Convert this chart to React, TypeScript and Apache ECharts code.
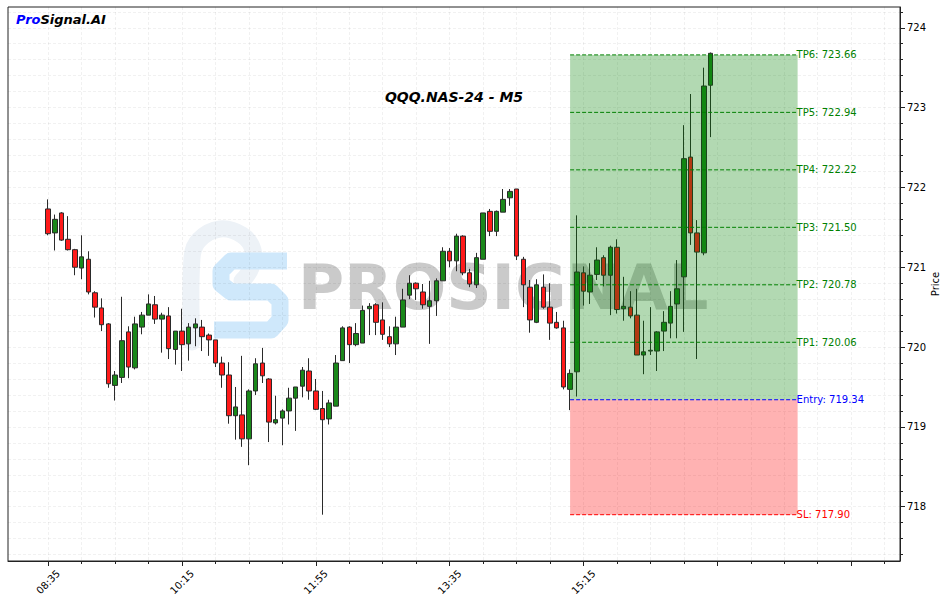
import React, { useEffect, useRef } from "react";
import * as echarts from "echarts";

// ---- candle data (index 0 = 08:35, M5 bars) ----
const OPENS = [
  721.73, 721.43, 721.68, 721.35, 721.22, 720.99, 721.10, 720.68, 720.49, 720.29,
  719.52, 719.62, 720.19, 719.74, 720.25, 720.40, 720.53, 720.35, 720.39, 719.97,
  720.20, 720.04, 720.24, 720.25, 720.15, 720.09, 719.80, 719.65, 719.14, 719.15,
  718.85, 719.45, 719.80, 719.60, 719.05, 719.11, 719.20, 719.36, 719.51, 719.70,
  719.45, 719.23, 719.10, 719.26, 719.83, 720.25, 720.03, 720.05, 720.48, 720.53,
  720.34, 720.13, 720.04, 720.25, 720.65, 720.80, 720.69, 720.51, 720.58, 720.83,
  721.20, 721.08, 721.39, 720.93, 720.78, 721.10, 721.70, 721.45, 721.69, 721.87,
  721.98, 721.10, 720.75, 720.31, 720.75, 720.50, 720.31, 720.24, 719.47, 719.69,
  720.93, 720.69, 720.91, 721.12, 720.90, 721.25, 720.48, 720.50, 720.40, 719.90,
  719.95, 719.95, 720.20, 720.30, 720.54, 720.88, 722.38, 721.43, 721.18, 723.28,
];
const CLOSES = [
  721.42, 721.60, 721.34, 721.22, 721.00, 721.13, 720.69, 720.50, 720.28, 719.54,
  719.65, 720.08, 719.75, 720.29, 720.40, 720.54, 720.35, 720.40, 719.98, 720.20,
  720.03, 720.25, 720.29, 720.13, 720.09, 719.80, 719.65, 719.14, 719.25, 718.85,
  719.45, 719.79, 719.64, 719.06, 719.09, 719.20, 719.36, 719.50, 719.71, 719.45,
  719.22, 719.09, 719.30, 719.80, 720.24, 720.03, 720.17, 720.46, 720.51, 720.31,
  720.16, 720.04, 720.25, 720.59, 720.80, 720.73, 720.53, 720.58, 720.83, 721.20,
  721.08, 721.39, 720.93, 720.79, 721.12, 721.68, 721.45, 721.70, 721.85, 721.95,
  721.14, 720.78, 720.34, 720.78, 720.50, 720.30, 720.24, 719.50, 719.67, 720.94,
  720.70, 720.90, 721.09, 720.90, 721.25, 720.47, 720.51, 720.39, 719.90, 719.94,
  719.96, 720.19, 720.31, 720.51, 720.73, 722.36, 721.43, 721.19, 723.27, 723.68,
];
const LOWS = [
  721.40, 721.21, 721.33, 721.21, 720.90, 720.85, 720.66, 720.37, 720.20, 719.49,
  719.33, 719.55, 719.61, 719.72, 720.16, 720.40, 720.29, 719.93, 719.85, 719.78,
  719.70, 719.83, 720.01, 719.95, 719.89, 719.75, 719.49, 719.04, 718.84, 718.75,
  718.52, 719.40, 719.55, 718.81, 719.03, 718.77, 719.03, 718.95, 719.37, 719.34,
  719.21, 717.90, 719.03, 719.26, 719.83, 719.80, 720.01, 720.05, 720.15, 720.15,
  720.09, 720.00, 719.90, 720.25, 720.60, 720.59, 720.48, 720.04, 720.39, 720.83,
  721.00, 720.95, 720.90, 720.75, 720.74, 721.10, 721.39, 721.39, 721.69, 721.77,
  721.09, 720.50, 720.18, 720.30, 720.48, 720.09, 720.23, 719.47, 719.21, 719.38,
  720.52, 720.54, 720.84, 720.76, 720.40, 720.42, 720.33, 720.36, 719.90, 719.66,
  719.90, 719.70, 719.95, 720.11, 720.11, 720.19, 721.28, 719.85, 721.15, 722.63,
];
const HIGHS = [
  721.85, 721.66, 721.69, 721.64, 721.23, 721.40, 721.20, 720.70, 720.61, 720.30,
  719.70, 720.63, 720.26, 720.38, 720.44, 720.66, 720.64, 720.43, 720.50, 720.20,
  720.48, 720.30, 720.36, 720.34, 720.17, 720.09, 719.88, 719.81, 719.50, 719.89,
  719.47, 719.86, 719.99, 719.61, 719.39, 719.22, 719.49, 719.50, 719.75, 719.86,
  719.60, 719.45, 719.34, 719.90, 720.26, 720.26, 720.30, 720.52, 720.55, 720.55,
  720.56, 720.26, 720.38, 720.73, 720.90, 720.81, 720.79, 720.83, 720.86, 721.25,
  721.24, 721.42, 721.40, 720.98, 721.18, 721.68, 721.73, 721.71, 721.98, 721.98,
  721.98, 721.13, 720.84, 720.85, 720.91, 720.80, 720.44, 720.33, 719.72, 721.65,
  721.01, 721.05, 721.25, 721.15, 721.27, 721.35, 720.88, 720.70, 720.73, 720.33,
  720.50, 720.20, 720.45, 720.70, 721.09, 722.78, 723.17, 721.59, 723.50, 723.69,
];

// ---- x axis ticks ----
const X_MAJOR_TICKS = [0, 20, 40, 60, 80, 100, 120];
const X_LABEL_TICKS = [0, 20, 40, 60, 80];
const X_LABELS = ["08:35", "10:15", "11:55", "13:35", "15:15"];
const X_MINOR_TICKS = [0, 5, 10, 15, 20, 25, 30, 35, 40, 45, 50, 55, 60, 65, 70, 75, 80, 85, 90, 95, 100, 105, 110, 115, 120, 125];

// ---- y axis ticks ----
const Y_MAJOR_TICKS = [718, 719, 720, 721, 722, 723, 724];
const Y_MINOR_TICKS = [
  717.4, 717.6, 717.8, 718.0, 718.2, 718.4, 718.6, 718.8, 719.0, 719.2, 719.4, 719.6, 719.8,
  720.0, 720.2, 720.4, 720.6, 720.8, 721.0, 721.2, 721.4, 721.6, 721.8, 722.0, 722.2, 722.4,
  722.6, 722.8, 723.0, 723.2, 723.4, 723.6, 723.8, 724.0, 724.2,
];

// ---- signal levels ----
const SIGNAL_START = 78;
const SIGNAL_END = 112;
const ENTRY = 719.34;
const SL = 717.9;
const TP_NAMES = ["TP1", "TP2", "TP3", "TP4", "TP5", "TP6"];
const TP_PRICES = [720.06, 720.78, 721.5, 722.22, 722.94, 723.66];

const LEVEL_NAMES = ["Entry", "SL", ...TP_NAMES];
const LEVEL_PRICES = [ENTRY, SL, ...TP_PRICES];
const LEVEL_COLORS = ["blue", "red", "green", "green", "green", "green", "green", "green"];

const FONT = '"DejaVu Sans", Verdana, sans-serif';

export default function App() {
  const ref = useRef<HTMLDivElement>(null);

  useEffect(() => {
    if (!ref.current) return;
    const chart = echarts.init(ref.current, null, { renderer: "svg" });

    const candles = OPENS.map((o, i) => [i, o, CLOSES[i], LOWS[i], HIGHS[i]]);
    const zones = [
      [SIGNAL_START, SIGNAL_END, ENTRY, TP_PRICES[TP_PRICES.length - 1], 0],
      [SIGNAL_START, SIGNAL_END, SL, ENTRY, 1],
    ];
    const zoneColors = ["rgba(0,128,0,0.3)", "rgba(255,0,0,0.3)"];
    const levels = LEVEL_PRICES.map((p, i) => [SIGNAL_START, SIGNAL_END, p, i]);

    const gridLine = { show: true, lineStyle: { color: "rgba(0,0,0,0.055)", type: [3, 2], width: 1 } };

    chart.setOption({
      animation: false,
      backgroundColor: "#fff",
      grid: {
        left: 8,
        right: 47,
        top: 7,
        bottom: 42,
        show: true,
        borderColor: "#222",
        borderWidth: 1,
        backgroundColor: "transparent",
        containLabel: false,
        outerBoundsMode: "none",
      },
      xAxis: [
        {
          type: "value",
          min: -6,
          max: 127.3,
          position: "bottom",
          axisLine: { show: true, onZero: false, lineStyle: { color: "#222" } },
          axisTick: { show: true, length: 5, customValues: X_MAJOR_TICKS, lineStyle: { color: "#222" } },
          axisLabel: {
            show: true,
            customValues: X_LABEL_TICKS,
            rotate: 45,
            align: "center",
            verticalAlign: "middle",
            margin: 21,
            fontSize: 10,
            fontFamily: FONT,
            color: "#000",
            formatter: (v: number) => X_LABELS[X_LABEL_TICKS.indexOf(Math.round(v))] ?? "",
          },
          splitLine: { show: false },
        },
        {
          type: "value",
          min: -6,
          max: 127.3,
          position: "bottom",
          axisLine: { show: false, onZero: false },
          axisTick: { show: true, length: 3, customValues: X_MINOR_TICKS, lineStyle: { color: "#222" } },
          axisLabel: { show: false },
          splitLine: gridLine,
        },
      ],
      yAxis: [
        {
          type: "value",
          min: 717.32,
          max: 724.26,
          position: "right",
          name: "Price",
          nameLocation: "middle",
          nameRotate: 90,
          nameGap: 30,
          nameMoveOverlap: false,
          nameTextStyle: { fontSize: 10, fontFamily: FONT, color: "#000" },
          axisLine: { show: true, onZero: false, lineStyle: { color: "#222" } },
          axisTick: { show: true, length: 5, customValues: Y_MAJOR_TICKS, lineStyle: { color: "#222" } },
          axisLabel: { show: true, customValues: Y_MAJOR_TICKS, margin: 7, fontSize: 10, fontFamily: FONT, color: "#000" },
          splitLine: { show: false },
        },
        {
          type: "value",
          min: 717.32,
          max: 724.26,
          position: "right",
          axisLine: { show: false, onZero: false },
          axisTick: { show: true, length: 3, customValues: Y_MINOR_TICKS, lineStyle: { color: "#222" } },
          axisLabel: { show: false },
          splitLine: gridLine,
        },
      ],
      graphic: [
        {
          type: "polyline",
          z: 0,
          silent: true,
          shape: { points: [[192, 342], [192, 258], [199, 240], [220, 229], [242, 235], [253, 250], [251, 268], [242, 281]], smooth: 0.4 },
          style: { stroke: "#edf2f7", lineWidth: 17, fill: null, lineCap: "round", lineJoin: "round" },
        },
        {
          type: "polyline",
          z: 0,
          silent: true,
          shape: { points: [[287, 261], [231, 261], [221, 271], [221, 284], [231, 292], [271, 292], [280, 301], [280, 320], [271, 330], [214, 330]] },
          style: { stroke: "#cfe8fb", lineWidth: 17, fill: null, lineJoin: "round" },
        },
        {
          type: "text",
          z: 0,
          silent: true,
          x: 298,
          y: 287,
          style: { text: "PROSIGNAL", font: `bold 63px ${FONT}`, fill: "rgba(128,128,128,0.42)", align: "left", verticalAlign: "middle" },
        },
        {
          type: "text",
          z: 10,
          x: 454,
          y: 97,
          style: { text: "QQQ.NAS-24 - M5", font: `italic bold 14px ${FONT}`, fill: "#000", align: "center", verticalAlign: "middle" },
        },
        {
          type: "text",
          z: 10,
          x: 16,
          y: 19,
          style: {
            text: "{a|Pro}{b|Signal.AI}",
            align: "left",
            verticalAlign: "middle",
            rich: {
              a: { fill: "#0000ff", fontStyle: "italic", fontWeight: "bold", fontSize: 13, fontFamily: FONT },
              b: { fill: "#000", fontStyle: "italic", fontWeight: "bold", fontSize: 13, fontFamily: FONT },
            },
          },
        },
      ],
      series: [
        {
          type: "candlestick",
          xAxisIndex: 0,
          yAxisIndex: 0,
          z: 2,
          barWidth: 5,
          data: candles,
          itemStyle: {
            color: "#1a881a",
            color0: "#ff1a1a",
            borderColor: "#2a2a2a",
            borderColor0: "#2a2a2a",
            borderColorDoji: "#2a2a2a",
            borderWidth: 1,
          },
        },
        {
          type: "custom",
          xAxisIndex: 0,
          yAxisIndex: 0,
          z: 3,
          silent: true,
          encode: { x: [0, 1], y: [2, 3] },
          data: zones,
          renderItem: (params: any, api: any) => {
            const p0 = api.coord([api.value(0), api.value(3)]);
            const p1 = api.coord([api.value(1), api.value(2)]);
            return {
              type: "rect",
              shape: { x: p0[0], y: p0[1], width: p1[0] - p0[0], height: p1[1] - p0[1] },
              style: { fill: zoneColors[api.value(4)] },
            };
          },
        },
        {
          type: "custom",
          xAxisIndex: 0,
          yAxisIndex: 0,
          z: 4,
          silent: true,
          clip: false,
          encode: { x: [0, 1], y: 2 },
          data: levels,
          renderItem: (params: any, api: any) => {
            const i = params.dataIndex;
            const a = api.coord([api.value(0), api.value(2)]);
            const b = api.coord([api.value(1), api.value(2)]);
            const color = LEVEL_COLORS[i];
            return {
              type: "group",
              children: [
                {
                  type: "line",
                  shape: { x1: a[0], y1: a[1], x2: b[0], y2: b[1] },
                  style: { stroke: color, lineWidth: 1, lineDash: [4, 2] },
                },
                {
                  type: "text",
                  x: b[0] - 1,
                  y: b[1],
                  style: {
                    text: `${LEVEL_NAMES[i]}: ${LEVEL_PRICES[i].toFixed(2)}`,
                    fill: color,
                    font: `10px ${FONT}`,
                    align: "left",
                    verticalAlign: "middle",
                  },
                },
              ],
            };
          },
        },
      ],
    });

    return () => chart.dispose();
  }, []);

  return <div ref={ref} style={{ position: "fixed", left: 0, top: 0, width: 947, height: 603 }} />;
}
